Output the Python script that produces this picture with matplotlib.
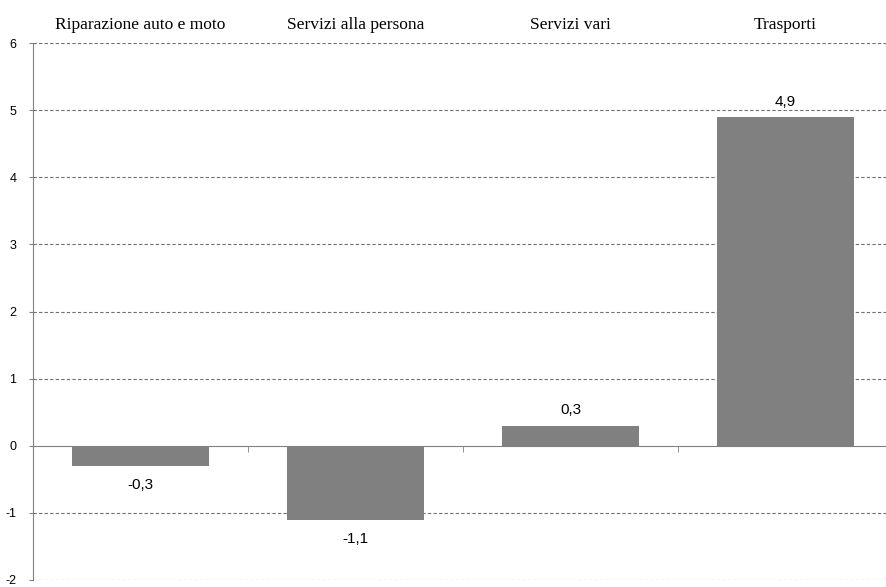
import matplotlib.pyplot as plt
from matplotlib.ticker import FixedLocator

categories = ['Riparazione auto e moto', 'Servizi alla persona', 'Servizi vari', 'Trasporti']
values = [-0.3, -1.1, 0.3, 4.9]
labels = ['-0,3', '-1,1', '0,3', '4,9']
yticks = [-2, -1, 0, 1, 2, 3, 4, 5, 6]

fig = plt.figure(figsize=(8.86, 5.87), dpi=100)
ax = fig.add_axes([33 / 886, 7 / 587, 860 / 886, 537 / 587])

x = list(range(len(categories)))
ax.bar(x, values, width=0.64, color='#808080', zorder=3)

ax.set_xlim(-0.5, len(categories) - 0.5)
ax.set_ylim(-2, 6)
ax.set_yticks(yticks)
ax.set_yticklabels([str(t) for t in yticks], fontsize=9, family='Liberation Sans')
ax.tick_params(axis='y', length=3, color='#808080', pad=9)

# griglia tratteggiata, tranne lo zero
for t in yticks:
    if t != 0:
        ax.axhline(t, color='#707070', lw=0.8, ls=(0, (3, 2)), zorder=1)

for s in ['top', 'right']:
    ax.spines[s].set_visible(False)
ax.spines['left'].set_color('#808080')
ax.spines['bottom'].set_position(('data', 0))
ax.spines['bottom'].set_color('#808080')
ax.spines['bottom'].set_zorder(4)

ax.set_xticks([])
ax.xaxis.set_minor_locator(FixedLocator([i + 0.5 for i in x[:-1]]))
ax.tick_params(axis='x', which='minor', length=4, color='#808080', direction='out')

top = ax.secondary_xaxis('top')
top.set_xticks(x)
top.set_xticklabels(categories, fontsize=12.5, family='Liberation Serif')
top.tick_params(length=0, pad=7)
top.spines['top'].set_visible(False)

for xi, v, lab in zip(x, values, labels):
    off = 11 if v >= 0 else -14
    ax.annotate(lab, (xi, v), xytext=(0, off), textcoords='offset points',
                ha='center', va='center', fontsize=11, family='Liberation Sans')

fig.savefig('out.png', dpi=100)
